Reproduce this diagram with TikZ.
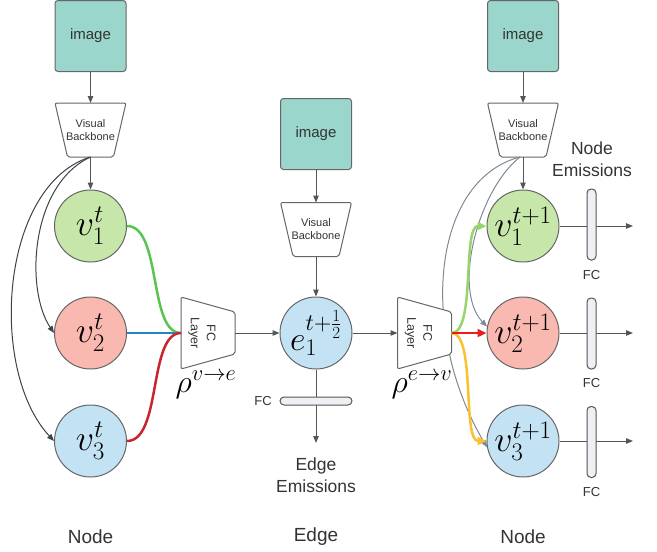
\RequirePackage{fix-cm}
\documentclass[tikz,border=0pt]{standalone}
\usepackage{fontspec}
\newfontfamily\lsans{Liberation Sans}
\usetikzlibrary{arrows.meta}
\definecolor{tealfill}{HTML}{9AD6CB}
\definecolor{gfill}{HTML}{C6E6AA}
\definecolor{rfill}{HTML}{F9B9B0}
\definecolor{bfill}{HTML}{C3E3F5}
\definecolor{linegray}{HTML}{666666}
\definecolor{arrgray}{HTML}{555555}
\definecolor{darkcurve}{HTML}{3C4248}
\definecolor{lightcurve}{HTML}{7F8995}
\definecolor{txtgray}{HTML}{333333}
\definecolor{greenL}{HTML}{5BC451}
\definecolor{blueL}{HTML}{2684C4}
\definecolor{redL}{HTML}{C9252F}
\definecolor{greenR}{HTML}{96D46E}
\definecolor{redR}{HTML}{E81E1E}
\definecolor{yellowR}{HTML}{FAC02E}
\definecolor{barfill}{HTML}{EEF0F3}
\tikzset{
  imgbox/.style={draw=linegray, fill=tealfill, rounded corners=3pt, minimum width=71pt, minimum height=71pt, line width=1pt, font=\lsans\fontsize{15}{17}\selectfont, text=txtgray},
  circ/.style={circle, draw=linegray, line width=1pt, minimum size=72pt, inner sep=0pt, font=\fontsize{36}{36}\selectfont},
  arr/.style={draw=arrgray, line width=1pt, -{Triangle[length=7pt,width=5.5pt]}},
  shapeln/.style={draw=linegray, line width=1pt, fill=white, rounded corners=2pt},
  smalltext/.style={font=\lsans\fontsize{11}{13}\selectfont, text=txtgray, align=center, inner sep=0pt},
  fctext/.style={font=\lsans\fontsize{12.5}{16}\selectfont, text=txtgray, align=center, inner sep=0pt},
  fclabel/.style={font=\lsans\fontsize{13}{14}\selectfont, text=txtgray},
  biglabel/.style={font=\lsans\fontsize{17.5}{22}\selectfont, text=txtgray, align=center},
  bottomlabel/.style={font=\lsans\fontsize{19}{21}\selectfont, text=txtgray},
  vbar/.style={draw=arrgray, line width=1pt, fill=barfill, rounded corners=4pt, minimum width=9pt, minimum height=71pt, inner sep=0pt},
  hbar/.style={draw=arrgray, line width=1pt, fill=barfill, rounded corners=4pt, minimum width=72pt, minimum height=8pt, inner sep=0pt},
  colline/.style={line width=2.5pt},
  colarr/.style={line width=2.5pt, -{Triangle[length=9pt,width=8pt]}},
  backbone/.pic={
    \draw[shapeln] (-35.5,-27) -- (35.5,-27) -- (23,27) -- (-23,27) -- cycle;
    \node[smalltext] (-t) at (0,0) {Visual\\Backbone};
    \coordinate (-top) at (0,-27);
    \coordinate (-bot) at (0,27);
  },
  fclayer/.pic={
    \draw[shapeln] (-27,-36) -- (27,-21) -- (27,21) -- (-27,36) -- cycle;
    \node[fctext, rotate=-90] (-t) at (-6,0) {FC\\Layer};
    \coordinate (-in) at (-27,0);
    \coordinate (-out) at (27,0);
  }
}
\begin{document}
\begin{tikzpicture}[x=1pt,y=-1pt]
\useasboundingbox (0,0) rectangle (657,552);

% images
\node[imgbox] (imgL) at (90.5,36) {image};
\node[imgbox] (imgM) at (316,134) {image};
\node[imgbox] (imgR) at (523,36) {image};

% backbones
\pic (bbL) at (90.5,130) {backbone};
\pic (bbM) at (316,229.5) {backbone};
\pic (bbR) at (523,130) {backbone};

% circles
\node[circ, fill=gfill] (v1L) at (90.5,226) {$v_1^t$};
\node[circ, fill=rfill] (v2L) at (90.5,333) {$v_2^t$};
\node[circ, fill=bfill] (v3L) at (90.5,441) {$v_3^t$};
\node[circ, fill=bfill, font=\fontsize{34}{34}\selectfont] (eM) at (316,333) {$e_1^{t+\frac{1}{2}}$};
\node[circ, fill=gfill] (v1R) at (523,226) {$v_1^{t+1}$};
\node[circ, fill=rfill] (v2R) at (523,333) {$v_2^{t+1}$};
\node[circ, fill=bfill] (v3R) at (523,441) {$v_3^{t+1}$};

% image -> backbone
\draw[arr] (imgL.south) -- (bbL-top);
\draw[arr] (imgM.south) -- (bbM-top);
\draw[arr] (imgR.south) -- (bbR-top);

% backbone -> nodes (left)
\draw[arr] (bbL-bot) -- (v1L.north);
\draw[arr, draw=darkcurve] (bbL-bot) .. controls (30,185) and (25,290) .. (v2L.west);
\draw[arr, draw=darkcurve] (bbL-bot) .. controls (0,185) and (-12,370) .. (v3L.west);

% backbone -> e
\draw[arr] (bbM-bot) -- (eM.north);

% backbone -> nodes (right)
\draw[arr] (bbR-bot) -- (v1R.north);
\coordinate (bbRo) at (520,157);
\draw[arr, draw=lightcurve] (bbRo) .. controls (478,190) and (452,290) .. (v2R.170);
\draw[arr, draw=lightcurve] (bbRo) .. controls (432,180) and (418,330) .. (v3R.190);

% FC layers
\pic (fcL) at (208,333) {fclayer};
\pic (fcR) at (424.5,333) {fclayer};

% left colored lines
\draw[colline, greenL] (v1L.east) .. controls (162,226) and (148,333) .. (fcL-in);
\draw[colline, blueL] (v2L.east) -- (fcL-in);
\draw[colline, redL] (v3L.east) .. controls (162,441) and (148,333) .. (fcL-in);

% FC -> e -> FC
\draw[arr] (fcL-out) -- (eM.west);
\draw[arr] (eM.east) -- (fcR-in);

% right colored arrows
\draw[colarr, greenR] (fcR-out) .. controls (476,333) and (462,226) .. (v1R.west);
\draw[colarr, yellowR] (fcR-out) .. controls (476,333) and (462,441) .. (v3R.west);
\draw[colarr, redR] (fcR-out) -- (v2R.west);

% rho labels
\node[font=\fontsize{32}{32}\selectfont] (rhoL) at (206,385) {$\rho^{v\rightarrow e}$};
\node[font=\fontsize{32}{32}\selectfont] (rhoR) at (422,385) {$\rho^{e\rightarrow v}$};

% edge emissions
\coordinate (eout) at (316,443);
\draw[arr] (eM.south) -- (eout);
\node[hbar] (barM) at (316,401) {};
\node[fclabel] (fcM) at (263,401) {FC};
\node[biglabel] (edgeEm) at (316,475) {Edge\\Emissions};

% node emissions
\coordinate (o1) at (633,226);
\coordinate (o2) at (633,333);
\coordinate (o3) at (633,441);
\draw[arr] (v1R.east) -- (o1);
\draw[arr] (v2R.east) -- (o2);
\draw[arr] (v3R.east) -- (o3);
\node[vbar] (bar1) at (591.5,224.5) {};
\node[vbar] (bar2) at (591.5,333.5) {};
\node[vbar] (bar3) at (591.5,442) {};
\node[fclabel] (fc1) at (591.5,275) {FC};
\node[fclabel] (fc2) at (591.5,383) {FC};
\node[fclabel] (fc3) at (591.5,492) {FC};
\node[biglabel] (nodeEm) at (592,159) {Node\\Emissions};

% bottom labels
\node[bottomlabel] (lab1) at (90.5,537) {Node};
\node[bottomlabel] (lab2) at (316,537) {Edge};
\node[bottomlabel] (lab3) at (523,537) {Node};
\end{tikzpicture}
\end{document}
